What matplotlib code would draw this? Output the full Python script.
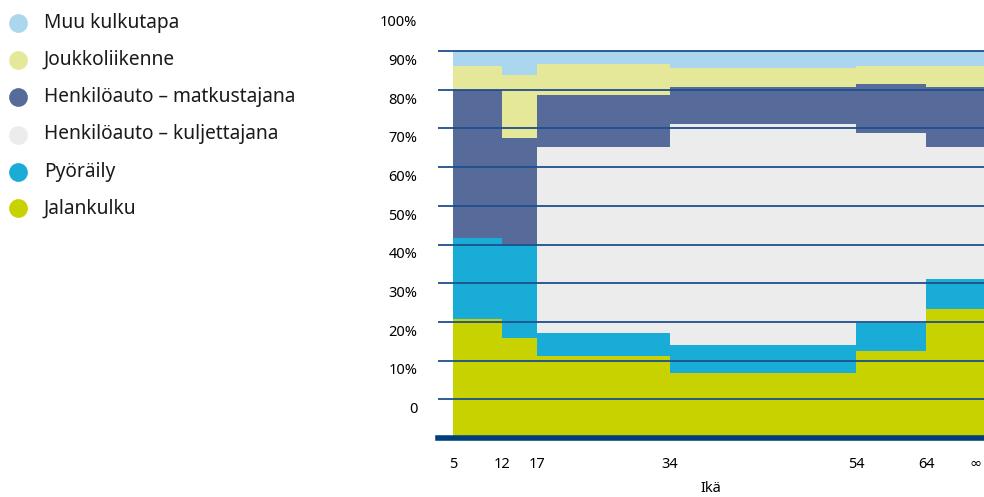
import matplotlib
matplotlib.use('Agg')
import numpy as np
import matplotlib.pyplot as plt
from matplotlib.lines import Line2D
from matplotlib.transforms import ScaledTranslation

plt.rcParams['font.family'] = ['Noto Sans', 'DejaVu Sans']

# age group edges (tick labels) and shares (%) per group, bottom -> top
ages = ["5", "12", "17", "34", "54", "64", "∞"]
modes = ["Jalankulku", "Pyöräily", "Henkilöauto – kuljettajana",
         "Henkilöauto – matkustajana", "Joukkoliikenne", "Muu kulkutapa"]
jalankulku = [30.7, 25.9, 21.2, 16.8, 22.5, 33.3]
pyoraily = [21.1, 24.1, 5.9, 7.2, 7.2, 7.9]
kuljettaja = [0.0, 0.0, 48.2, 57.1, 49.1, 34.1]
matkustaja = [38.2, 27.4, 13.3, 9.6, 12.6, 15.4]
joukko = [6.1, 16.3, 8.1, 4.8, 4.7, 5.4]
muu = [3.9, 6.3, 3.3, 4.5, 3.9, 3.9]
y_labels = ["0", "10%", "20%", "30%", "40%", "50%", "60%", "70%", "80%", "90%", "100%"]

colors = ["#c8d200", "#18acd7", "#ebeceb", "#566b9a", "#e6e899", "#aad6ee"]
# column widths on screen (age groups are not drawn to a linear scale)
col_width = [49, 35, 134, 187, 70, 58]

W, H = 984, 497
fig = plt.figure(figsize=(W / 100, H / 100), dpi=100)
ax = fig.add_axes([438 / W, (H - 438) / H, (984 - 438) / W, (438 - 12.3) / H])

edges = np.concatenate([[0], np.cumsum(col_width)])
series = [jalankulku, pyoraily, kuljettaja, matkustaja, joukko, muu]
bottom = np.zeros(len(jalankulku))
for vals, c in zip(series, colors):
    top = bottom + np.array(vals)
    ax.stairs(top, edges, baseline=bottom, fill=True, color=c, lw=0, zorder=1)
    bottom = top

for v in range(10, 101, 10):
    ax.axhline(v, color="#1d4f8c", lw=1.3, zorder=3)
ax.axhline(0, color="#003f7c", lw=4, zorder=4, clip_on=False)

ax.set_xlim(-15, 531)
ax.set_ylim(0, 110)
for s in ax.spines.values():
    s.set_visible(False)

ax.set_xticks(edges)
ax.set_xticklabels(ages, fontsize=10.5)
ax.set_yticks(np.arange(10, 111, 10))
ax.set_yticklabels(y_labels, fontsize=10.5)
ax.tick_params(axis="y", length=0, pad=15)
ax.tick_params(axis="x", length=0, pad=14)
off = ScaledTranslation(0, -6 / 72, fig.dpi_scale_trans)
for lab in ax.get_yticklabels():
    lab.set_transform(lab.get_transform() + off)
last = ax.get_xticklabels()[-1]
last.set_transform(last.get_transform() + ScaledTranslation(-8 / 100, 0, fig.dpi_scale_trans))
ax.set_xlabel("Ikä", fontsize=10.5, labelpad=6)

# legend, top entry first
leg_y = [22.7, 60, 97.3, 134.5, 172, 208.5]
for i, (name, c) in enumerate(zip(modes[::-1], colors[::-1])):
    y = 1 - leg_y[i] / H
    fig.add_artist(Line2D([18 / W], [y], marker="o", ms=13.5, color=c,
                          mec="none", transform=fig.transFigure))
    fig.text(44 / W, y, name, fontsize=13.8, va="center", ha="left",
             color="#1a1a1a")

fig.savefig("out.png", dpi=100)
